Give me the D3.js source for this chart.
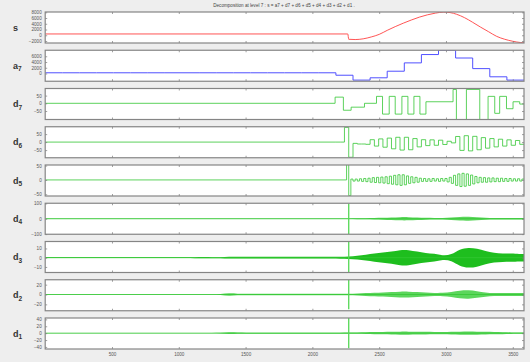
<!DOCTYPE html>
<html>
<head>
<meta charset="utf-8">
<script src="https://cdn.jsdelivr.net/npm/d3@7"></script>
<style>
  body { margin: 0; background: #eeeeee; }
  svg { display: block; font-family: "Liberation Sans", Arial, sans-serif; }
  .tick text { font-size: 4.6px; fill: #555; }
  .tick line { stroke: #777; stroke-width: 0.7; }
  .domain { display: none; }
</style>
</head>
<body>
<svg id="chart" width="530" height="362"></svg>
<script>
// signal length and x tick values
const nSamples = 3584;
const xTicks = [500, 1000, 1500, 2000, 2500, 3000, 3500];

// panels, top to bottom
const panelNames = ["s", "a7", "d7", "d6", "d5", "d4", "d3", "d2", "d1"];
const yLimits = [[-2700, 8100], [-2700, 8100], [-105, 96], [-98, 96], [-56, 52],
                 [-101, 101], [-16, 17.5], [-33, 30], [-46, 44]];
const yTicks = [[-2000, 0, 2000, 4000, 6000, 8000], [0, 2000, 4000, 6000], [-50, 0, 50],
                [-50, 0, 50], [-50, 0, 50], [-100, 0, 100], [-10, 0, 10], [-20, 0, 20],
                [-40, -20, 0, 20, 40]];

// original signal s (sample, value)
const sSample = [0, 2265, 2272, 2320, 2380, 2440, 2500, 2560, 2620, 2680, 2740, 2800, 2860,
                 2920, 2980, 3030, 3080, 3140, 3200, 3260, 3320, 3380, 3440, 3500, 3560, 3584];
const sValue = [450, 450, -1400, -1500, -1250, -600, 300, 1700, 3000, 4200, 5300, 6300, 7100,
                7700, 8050, 7900, 7300, 6100, 4500, 2800, 1200, -400, -1400, -2100, -2550, -2650];

// approximation a7, one value per 128-sample block
const a7Values = [250, 250, 250, 250, 250, 250, 250, 250, 250, 250, 250, 250, 250, 250, 250, 250,
                  250, -600, -2300, -1500, 800, 3700, 6600, 8100, 5400, 1700, -1150, -2300];

// detail d7 as steps (start sample, level)
const d7Sample = [0, 2170, 2232, 2290, 2390, 2480, 2525, 2575, 2620, 2670, 2715, 2760, 2805, 2850,
                  3053, 3078, 3153, 3253, 3315, 3365, 3402, 3453, 3502, 3552];
const d7Value = [0, 40, -45, -25, 0, 45, -70, 45, -70, 45, -70, 45, -70, 10,
                 90, -105, 90, -105, 45, -65, 45, -35, 10, -5];

// detail d6, 32-sample steps from sample 2176 (zero before)
const d6From = 2176;
const d6Values = [0, 0, 92, -95, -8, -12, -12, -14,
                  15, -25, 20, -32, 25, -42, 30, -50, 30, -48, 22, -30, 15, -22, 14, -20, 12, -15,
                  5, -5, 35, -52, 40, -55, 36, -48, 28, -38, 22, -30, 18, -25, 14, -20, 10, -14];

// detail d5, 16-sample steps from sample 2256 (zero before)
const d5From = 2256;
const d5Values = [55, -55,
                  3, -4, 3, -4, 4, -5, 5, -6, 6, -8,
                  8, -9, 9, -10, 10, -11, 11, -13, 13, -15, 16, -17,
                  18, -19, 18, -17, 14, -12, 11, -10, 9, -8,
                  6, -5, 5, -5, 4, -5, 5, -4, 4, -5, 5, -4, 5,
                  -7, 9, -12, 16, -19, 21, -23, 23, -22, 21, -19, 17, -14,
                  12, -10, 9, -8, 8, -8, 7, -7, 7, -6, 6, -6,
                  6, -5, 5, -5, 5, -4, 4, -4, 4, -4, 3];

// details d4..d1: amplitude envelope per 64-sample block
const d4Env = [1, 1, 1, 1, 1, 1, 1, 1, 1, 1, 1, 1, 1, 1, 1, 1, 1, 1, 1, 1, 1,
               1.5, 1.5, 1.5, 1.5, 1.5, 1.5, 1.5, 1.5, 1.5, 1.5, 1.5, 1.5, 1.5, 1.5, 1.5,
               3, 4, 5, 6, 8, 11, 11, 8, 6, 5, 4, 8, 12, 13, 10, 7, 5, 5, 5, 5];
const d3Env = [0.4, 0.4, 0.4, 0.4, 0.4, 0.4, 0.4, 0.4, 0.4, 0.4, 0.4, 0.4, 0.4, 0.4, 0.4, 0.4, 0.4, 0.4,
               0.8, 0.5, 0.5,
               1, 1, 1, 1, 1, 1, 1, 1, 1, 1, 1, 1, 1, 1, 1.2,
               2, 3, 4.5, 5.5, 6.5, 8.5, 8.5, 6.5, 5, 4.5, 2, 3, 9.5, 11, 10, 7, 5, 4.5, 4.5, 4];
const d2Env = [0.6, 0.6, 0.6, 0.6, 0.6, 0.6, 0.6, 0.6, 0.6, 0.6, 0.6, 0.6, 0.6, 0.6, 0.6, 0.6, 0.6, 0.6, 0.6, 0.6, 0.6,
               3, 1.5, 1.5, 1.5, 1.5, 1.5, 1.5, 1.5, 1.5, 1.5, 1.5, 1.5, 1.5, 1.5, 1.5,
               2, 3, 3.5, 4, 5, 6, 6, 5, 4, 3, 3, 5, 8, 9, 7, 4, 3, 3, 3, 3];
const d1Env = [0.6, 0.6, 0.6, 0.6, 0.6, 0.6, 0.6, 0.6, 0.6, 0.6, 0.6, 0.6, 0.6, 0.6, 0.6, 0.6, 0.6, 0.6, 0.6, 0.6, 0.6,
               3, 1.5, 1.5, 1.5, 1.5, 1.5, 1.5, 1.5, 1.5, 1.5, 1.5, 1.5, 1.5, 1.5, 1.5,
               2, 2.5, 3, 3.5, 4, 4.5, 4.5, 4, 4, 3, 3, 4, 4.5, 4.5, 4.5, 4, 3.5, 3, 2, 2];

// the break in the signal shows up as a spike in d4..d1
const spikeSample = 2272;
const spikeValue = [100, 17, 30, 44];

const sColor = "#ff5555", aColor = "#5050ff", dColor = "#33c633";

const svg = d3.select("#chart");
const x = d3.scaleLinear().domain([0, nSamples]).range([45.2, 524]);
const panelH = 31;
const panelTop = i => 12 + i * 38.25;
const fmt = d3.format("d");

// build the point lists
const sPoints = sSample.map((s, i) => [s, sValue[i]]);
const a7Points = a7Values.map((v, i) => [i * 128, v]).concat([[nSamples, a7Values[a7Values.length - 1]]]);
const d7Points = d7Sample.map((s, i) => [s, d7Value[i]]).concat([[nSamples, d7Value[d7Value.length - 1]]]);
const stepPoints = (from, step, vals) => [[0, 0]]
  .concat(vals.map((v, i) => [from + i * step, v]))
  .concat([[nSamples, vals[vals.length - 1]]]);
const d6Points = stepPoints(d6From, 32, d6Values);
const d5Points = stepPoints(d5From, 16, d5Values);
const envPoints = env => [[0, env[0]]]
  .concat(env.map((e, i) => [i * 64 + 32, e]))
  .concat([[nSamples, env[env.length - 1]]]);
const envelopes = [d4Env, d3Env, d2Env, d1Env];

svg.append("text")
  .attr("x", 284).attr("y", 6.5)
  .attr("text-anchor", "middle")
  .attr("font-size", 4.6).attr("fill", "#444")
  .text("Decomposition at level 7 : s = a7 + d7 + d6 + d5 + d4 + d3 + d2 + d1 .");

panelNames.forEach((name, i) => {
  const top = panelTop(i);
  const y = d3.scaleLinear().domain(yLimits[i]).range([top + panelH, top]);
  const g = svg.append("g");

  g.append("rect")
    .attr("x", x(0)).attr("y", top)
    .attr("width", x(nSamples) - x(0)).attr("height", panelH)
    .attr("fill", "#fff");

  g.append("clipPath").attr("id", "clip" + i)
    .append("rect")
    .attr("x", x(0)).attr("y", top)
    .attr("width", x(nSamples) - x(0)).attr("height", panelH);

  const plot = g.append("g").attr("clip-path", "url(#clip" + i + ")");
  const line = d3.line().x(d => x(d[0])).y(d => y(d[1]));

  if (i === 0) {
    plot.append("path").datum(sPoints)
      .attr("d", line.curve(d3.curveMonotoneX))
      .attr("fill", "none").attr("stroke", sColor).attr("stroke-width", 1);
  } else if (i === 1) {
    plot.append("path").datum(a7Points)
      .attr("d", line.curve(d3.curveStepAfter))
      .attr("fill", "none").attr("stroke", aColor).attr("stroke-width", 1);
  } else if (i <= 4) {
    const pts = [d7Points, d6Points, d5Points][i - 2];
    plot.append("path").datum(pts)
      .attr("d", line.curve(d3.curveStepAfter))
      .attr("fill", "none").attr("stroke", dColor).attr("stroke-width", 0.8);
  } else {
    const k = i - 5;
    const area = d3.area()
      .x(d => x(d[0]))
      .y0(d => y(-d[1]))
      .y1(d => y(d[1]))
      .curve(d3.curveBasis);
    plot.append("path").datum(envPoints(envelopes[k]))
      .attr("d", area)
      .attr("fill", k === 1 ? "#12bb12" : "#33cc33")
      .attr("fill-opacity", k === 1 ? 0.95 : 0.8);
    plot.append("line")
      .attr("x1", x(0)).attr("x2", x(nSamples))
      .attr("y1", y(0)).attr("y2", y(0))
      .attr("stroke", dColor).attr("stroke-width", 0.8);
    plot.append("line")
      .attr("x1", x(spikeSample)).attr("x2", x(spikeSample))
      .attr("y1", y(-spikeValue[k])).attr("y2", y(spikeValue[k]))
      .attr("stroke", "#55d855").attr("stroke-width", 1.3);
  }

  // axes, ticks pointing inwards like MATLAB
  g.append("g")
    .attr("transform", "translate(" + x(0) + ",0)")
    .call(d3.axisLeft(y).tickValues(yTicks[i]).tickSize(-2).tickPadding(3.5).tickFormat(fmt));
  g.append("g")
    .attr("transform", "translate(" + x(nSamples) + ",0)")
    .call(d3.axisRight(y).tickValues(yTicks[i]).tickSize(-2).tickFormat(""));
  g.append("g")
    .attr("transform", "translate(0," + top + ")")
    .call(d3.axisTop(x).tickValues(xTicks).tickSize(-2).tickFormat(""));
  const bottom = d3.axisBottom(x).tickValues(xTicks).tickSize(-2).tickPadding(4)
    .tickFormat(i < panelNames.length - 1 ? "" : fmt);
  g.append("g")
    .attr("transform", "translate(0," + (top + panelH) + ")")
    .call(bottom);

  g.append("rect")
    .attr("x", x(0)).attr("y", top)
    .attr("width", x(nSamples) - x(0)).attr("height", panelH)
    .attr("fill", "none").attr("stroke", "#858585").attr("stroke-width", 1.2);

  // panel label on the left
  const label = g.append("text")
    .attr("x", 13).attr("y", top + panelH / 2 + 3)
    .attr("font-size", 9).attr("font-weight", "bold").attr("fill", "#333");
  label.append("tspan").text(name[0]);
  if (name.length > 1) {
    label.append("tspan").attr("dy", 2.5).attr("font-size", 6.5).text(name.slice(1));
  }
});
</script>
</body>
</html>
